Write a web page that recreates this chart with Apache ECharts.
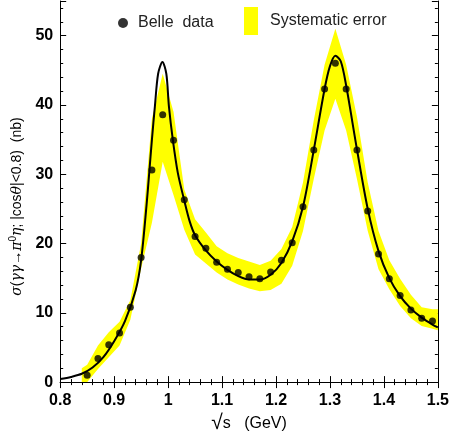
<!DOCTYPE html>
<html><head><meta charset="utf-8">
<script src="https://cdn.jsdelivr.net/npm/echarts@6/dist/echarts.min.js"></script>
<style>html,body{margin:0;padding:0;background:#fff}#c{width:452px;height:439px}</style>
</head><body><div id="c"></div>
<script>
// Belle data points
const dataX = [0.85,0.87,0.89,0.91,0.93,0.95,0.97,0.99,1.01,1.03,1.05,1.07,1.09,1.11,1.13,1.15,1.17,1.19,1.21,1.23,1.25,1.27,1.29,1.31,1.33,1.35,1.37,1.39,1.41,1.43,1.45,1.47,1.49];
const dataY = [1.0,3.4,5.4,7.1,10.8,18.0,30.6,38.6,34.9,26.3,21.0,19.3,17.3,16.3,15.8,15.2,14.9,15.9,17.6,20.1,25.3,33.5,42.3,46.0,42.3,33.5,24.7,18.5,14.9,12.5,10.4,9.2,8.8];
// Fit curve
const fitX = [0.80,0.82,0.84,0.86,0.88,0.90,0.92,0.94,0.95,0.96,0.965,0.970,0.9755,0.9815,0.9895,0.9967,1.0015,1.0087,1.018,1.03,1.04,1.05,1.07,1.09,1.11,1.13,1.15,1.17,1.19,1.21,1.23,1.25,1.27,1.29,1.30,1.31,1.32,1.33,1.35,1.37,1.39,1.41,1.43,1.45,1.47,1.49,1.50];
const fitY = [0.45,0.75,1.2,2.1,3.6,5.9,8.8,13.3,17.6,25.5,30.2,35.0,39.8,44.5,46.2,44.5,39.8,35.0,30.2,26.2,23.2,21.2,19.0,17.4,16.2,15.3,14.8,14.8,15.5,17.2,20.3,25.3,33.5,42.3,45.6,47.1,46.3,42.8,33.6,25.0,18.9,15.0,12.4,10.6,9.3,8.3,7.9];
// Systematic error band
const bandX = [0.84,0.85,0.87,0.89,0.91,0.93,0.95,0.97,0.99,1.01,1.03,1.05,1.07,1.09,1.11,1.13,1.15,1.17,1.19,1.21,1.23,1.25,1.27,1.29,1.31,1.33,1.35,1.37,1.39,1.41,1.43,1.45,1.47,1.49,1.50];
const bandLow = [0.0,0.0,1.9,3.6,5.3,9.0,16.4,23.0,31.8,27.0,22.0,18.4,17.1,15.8,14.8,14.1,13.5,13.1,13.3,14.2,16.8,21.8,29.3,36.3,40.9,36.3,29.3,21.8,16.3,13.4,11.0,9.2,8.1,7.7,7.5];
const bandHigh = [2.0,2.5,5.3,7.2,8.7,11.8,20.0,38.0,44.5,39.0,27.8,23.5,21.6,19.6,18.6,17.9,17.4,16.9,17.5,19.2,22.4,28.8,37.8,45.8,51.0,45.8,38.3,28.8,21.8,17.6,14.9,12.6,10.8,10.5,10.5];
// Axes
const xMin = 0.8, xMax = 1.5, xStep = 0.1;
const yMin = 0, yMax = 55, yStep = 10;

const chart = echarts.init(document.getElementById('c'), null, {renderer:'canvas'});
const sans = 'Liberation Sans, Arial, sans-serif';
const serif = 'DejaVu Serif, Liberation Serif, serif';
const axisCommon = {
  axisLine:{show:true, lineStyle:{color:'#000', width:1}},
  axisTick:{show:true, inside:true, length:6, lineStyle:{color:'#000', width:1}},
  minorTick:{show:true, splitNumber:5, length:3, lineStyle:{color:'#000', width:1}},
  splitLine:{show:false}
};
const option = {
  animation:false,
  backgroundColor:'#fff',
  grid:{left:58, right:8, top:1, bottom:54, containLabel:false},
  legend:[
    {data:['Belle  data'], left:118, top:15, padding:0, icon:'circle', itemWidth:10, itemHeight:10,
     textStyle:{fontFamily:sans, fontSize:16, color:'#222', padding:[2,0,0,5]}},
    {data:['Systematic error'], left:244, top:7, padding:0, icon:'rect', itemWidth:14, itemHeight:28,
     textStyle:{fontFamily:sans, fontSize:16, color:'#222', padding:[4,0,0,7]}}
  ],
  xAxis:[
    Object.assign({type:'value', min:xMin, max:xMax, interval:xStep, position:'bottom',
      axisLabel:{color:'#000', fontFamily:sans, fontSize:16, fontWeight:'bold', margin:10,
        formatter:v=>String(parseFloat(v.toFixed(2)))},
      name:'{r|√}s   (GeV)', nameLocation:'middle', nameGap:29,
      nameTextStyle:{fontFamily:sans, fontSize:16, color:'#000',
        rich:{r:{fontFamily:sans, fontSize:21, color:'#000'}}}}, axisCommon),
    Object.assign({type:'value', min:xMin, max:xMax, interval:xStep, position:'top',
      axisLabel:{show:false}}, axisCommon)
  ],
  yAxis:[
    Object.assign({type:'value', min:yMin, max:yMax, interval:yStep, position:'left',
      axisLabel:{color:'#000', fontFamily:sans, fontSize:16, fontWeight:'bold', margin:7, showMaxLabel:false},
      name:'{g|σ}({g|γγ}→{g|π}{s|0}{g|η}; |cos{g|θ}|<0.8)  (nb)', nameLocation:'middle', nameGap:30, nameRotate:90,
      nameTextStyle:{fontFamily:sans, fontSize:14, color:'#000', padding:[0,30,0,0],
        rich:{g:{fontFamily:serif, fontStyle:'italic', fontSize:14, color:'#000'},
              s:{fontFamily:sans, fontSize:10, color:'#000', padding:[0,0,9,0]}}}}, axisCommon),
    Object.assign({type:'value', min:yMin, max:yMax, interval:yStep, position:'right',
      axisLabel:{show:false}}, axisCommon)
  ],
  series:[
    {
      name:'Systematic error', type:'custom', xAxisIndex:0, yAxisIndex:0,
      itemStyle:{color:'#ffff00'},
      data: bandX.map((x,i)=>[x, bandLow[i], bandHigh[i]]),
      encode:{x:0, y:[1,2]},
      renderItem:function(params, api){
        if (params.dataIndex !== 0) return;
        const pts = [];
        for (let i=0;i<bandX.length;i++) pts.push(api.coord([bandX[i], bandHigh[i]]));
        for (let i=bandX.length-1;i>=0;i--) pts.push(api.coord([bandX[i], bandLow[i]]));
        return {type:'polygon', shape:{points:pts}, style:{fill:'#ffff00'}, silent:true};
      },
      clip:true, z:1
    },
    {
      name:'fit', type:'line', xAxisIndex:0, yAxisIndex:0,
      data: fitX.map((x,i)=>[x, fitY[i]]),
      smooth:0.3, showSymbol:false, symbol:'none',
      lineStyle:{color:'#000', width:2}, itemStyle:{color:'#000'}, z:2
    },
    {
      name:'Belle  data', type:'scatter', xAxisIndex:0, yAxisIndex:0,
      data: dataX.map((x,i)=>[x, dataY[i]]),
      symbol:'circle', symbolSize:7, itemStyle:{color:'#000'}, z:3
    }
  ]
};
chart.setOption(option);
</script>
</body></html>
